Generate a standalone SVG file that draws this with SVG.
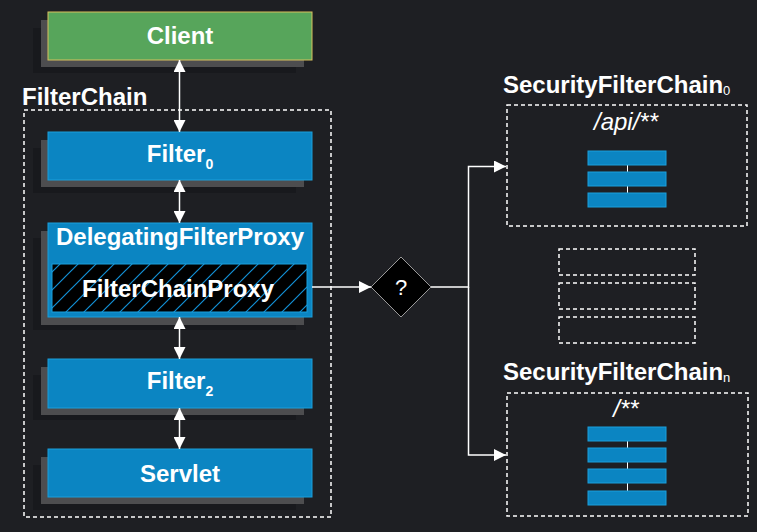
<svg xmlns="http://www.w3.org/2000/svg" width="757" height="532" viewBox="0 0 757 532">
<defs>
<marker id="ah" viewBox="0 0 12 12" refX="12" refY="6" markerWidth="12" markerHeight="12" markerUnits="userSpaceOnUse" orient="auto-start-reverse">
<path d="M0,0 L12,6 L0,12 z" fill="#ffffff"/>
</marker>
<pattern id="hatch" patternUnits="userSpaceOnUse" width="18" height="18">
<path d="M-2,20 L20,-2 M-2,2 L2,-2 M16,20 L20,16" stroke="#1190d6" stroke-width="1.2"/>
</pattern>
<style>
.sh1{fill:#18191d}
.sh2{fill:#4d4d4f}
.blue{fill:#0b85c2;stroke:#1b9fdc;stroke-width:1}
.lbl{font-family:"Liberation Sans",Arial,sans-serif;font-weight:bold;font-size:24px;fill:#ffffff;text-anchor:middle}
.sub{font-size:14px}
.dash{fill:none;stroke:#ffffff;stroke-width:1.5;stroke-dasharray:4 3}
.conn{fill:none;stroke:#ffffff;stroke-width:1.5}
.bar{fill:#0b85c2;stroke:#1b9fdc;stroke-width:1}
.it{font-family:"Liberation Sans",Arial,sans-serif;font-style:italic;font-size:24px;fill:#ffffff;text-anchor:middle}
</style>
</defs>
<rect width="757" height="532" fill="#1e1f23"/>

<g id="filterchain">
<rect class="dash" x="24" y="110" width="307" height="407"/>
<text x="22" y="105" class="lbl" style="text-anchor:start">FilterChain</text>
</g>

<g id="client">
<rect class="sh1" x="33" y="28" width="263" height="45"/>
<rect class="sh2" x="41" y="20" width="263" height="47"/>
<rect x="48" y="12" width="264" height="48" fill="#57a55b" stroke="#d9c15e" stroke-width="1"/>
<text x="180" y="44" class="lbl">Client</text>
</g>

<g id="filter0">
<rect class="sh1" x="33" y="148" width="263" height="45"/>
<rect class="sh2" x="41" y="140" width="263" height="47"/>
<rect class="blue" x="48" y="132" width="264" height="48"/>
<text x="180" y="162" class="lbl">Filter<tspan class="sub" dy="7">0</tspan></text>
</g>

<g id="delegatingfilterproxy">
<rect class="sh1" x="33" y="238" width="263" height="92"/>
<rect class="sh2" x="41" y="231" width="263" height="94"/>
<rect class="blue" x="48" y="223" width="264" height="94"/>
<text x="180" y="245" class="lbl">DelegatingFilterProxy</text>
</g>

<g id="filterchainproxy">
<rect x="52" y="264" width="255" height="48" fill="#000000"/>
<rect x="52" y="264" width="255" height="48" fill="url(#hatch)" stroke="#1b9fdc" stroke-width="1"/>
<text x="178" y="297" class="lbl">FilterChainProxy</text>
</g>

<g id="filter2">
<rect class="sh1" x="33" y="375" width="263" height="45"/>
<rect class="sh2" x="41" y="367" width="263" height="48"/>
<rect class="blue" x="48" y="359" width="264" height="49"/>
<text x="180" y="389" class="lbl">Filter<tspan class="sub" dy="7">2</tspan></text>
</g>

<g id="servlet">
<rect class="sh1" x="33" y="465" width="263" height="45"/>
<rect class="sh2" x="41" y="457" width="263" height="47"/>
<rect class="blue" x="48" y="449" width="264" height="48"/>
<text x="180" y="482" class="lbl">Servlet</text>
</g>

<g id="decision">
<path d="M401,257 L431,287 L401,317 L371,287 z" fill="#000000" stroke="#9a9a9a" stroke-width="1"/>
<text x="401" y="295" style="font-family:'Liberation Sans',Arial,sans-serif;font-size:22px;fill:#ffffff;text-anchor:middle">?</text>
</g>

<g id="securityfilterchain0">
<text x="503" y="93" class="lbl" style="text-anchor:start">SecurityFilterChain<tspan style="font-size:13px;font-weight:normal" dy="2">0</tspan></text>
<rect class="dash" x="507" y="105" width="240" height="121"/>
<text x="626" y="130" class="it">/api/**</text>
<line x1="627.5" y1="158" x2="627.5" y2="200" stroke="#ffffff" stroke-width="1"/>
<rect class="bar" x="588" y="151" width="78" height="14"/>
<rect class="bar" x="588" y="172" width="78" height="14"/>
<rect class="bar" x="588" y="193" width="78" height="14"/>
</g>

<g id="placeholders">
<rect class="dash" x="559" y="249" width="136" height="26"/>
<rect class="dash" x="559" y="283" width="136" height="26"/>
<rect class="dash" x="559" y="317" width="136" height="26"/>
</g>

<g id="securityfilterchainn">
<text x="503" y="380" class="lbl" style="text-anchor:start">SecurityFilterChain<tspan style="font-size:13px;font-weight:normal" dy="2">n</tspan></text>
<rect class="dash" x="507" y="393" width="241" height="123"/>
<text x="626" y="417" class="it">/**</text>
<line x1="627.5" y1="434" x2="627.5" y2="498" stroke="#ffffff" stroke-width="1"/>
<rect class="bar" x="588" y="427" width="78" height="14"/>
<rect class="bar" x="588" y="448" width="78" height="14"/>
<rect class="bar" x="588" y="469" width="78" height="14"/>
<rect class="bar" x="588" y="491" width="78" height="14"/>
</g>

<g id="connectors">
<line class="conn" x1="179.5" y1="60" x2="179.5" y2="132" marker-start="url(#ah)" marker-end="url(#ah)"/>
<line class="conn" x1="179.5" y1="180" x2="179.5" y2="223" marker-start="url(#ah)" marker-end="url(#ah)"/>
<line class="conn" x1="179.5" y1="317" x2="179.5" y2="359" marker-start="url(#ah)" marker-end="url(#ah)"/>
<line class="conn" x1="179.5" y1="408" x2="179.5" y2="449" marker-start="url(#ah)" marker-end="url(#ah)"/>
<line class="conn" x1="312" y1="287" x2="371" y2="287" marker-end="url(#ah)"/>
<polyline class="conn" points="431,287 468.5,287 468.5,166.5 506,166.5" marker-end="url(#ah)"/>
<polyline class="conn" points="468.5,287 468.5,455 506,455" marker-end="url(#ah)"/>
</g>
</svg>
